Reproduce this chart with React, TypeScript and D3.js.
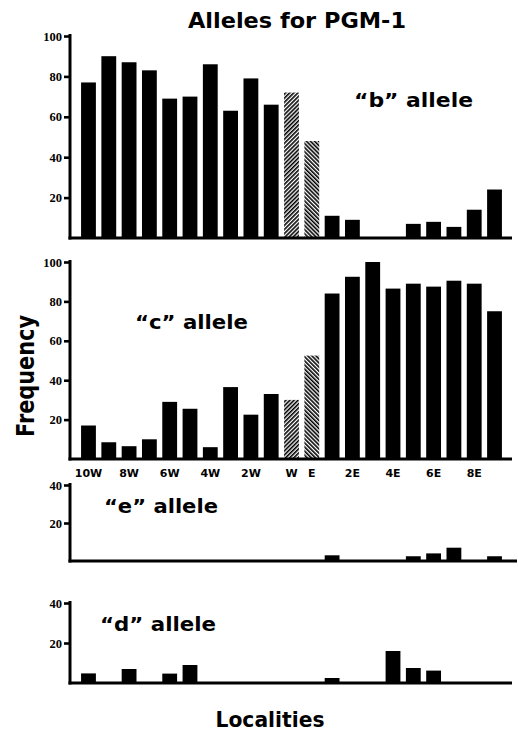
import React, { useRef, useEffect } from "react";
import * as d3 from "d3";

// localities from west to east, W and E are the two hatched centre samples
const localities = ["10W", "9W", "8W", "7W", "6W", "5W", "4W", "3W", "2W", "1W", "W", "E",
  "1E", "2E", "3E", "4E", "5E", "6E", "7E", "8E", "9E"];
const tickLocalities = ["10W", "8W", "6W", "4W", "2W", "W", "E", "2E", "4E", "6E", "8E"];
const hatchedWest = "W";
const hatchedEast = "E";

// frequencies (%)
const alleleB = [77, 90, 87, 83, 69, 70, 86, 63, 79, 66, 72, 48, 11, 9, 0, 0, 7, 8, 5.5, 14, 24];
const alleleC = [17, 8.5, 6.5, 10, 29, 25.5, 6, 36.5, 22.5, 33, 30, 52.5, 84, 92.5, 100, 86.5, 89, 87.5, 90.5, 89, 75];
const alleleE = [0, 0, 0, 0, 0, 0, 0, 0, 0, 0, 0, 0, 3, 0, 0, 0, 2.5, 4, 7, 0, 2.5];
const alleleD = [4.8, 0, 7, 0, 4.7, 9, 0, 0, 0, 0, 0, 0, 2.5, 0, 0, 16, 7.5, 6.2, 0, 0, 0];

const bigFont = "'DejaVu Sans', sans-serif";
const tickFont = "'Liberation Serif', serif";

const App = () => {
  const ref = useRef(null);

  useEffect(() => {
    const svg = d3.select(ref.current);
    svg.selectAll("*").remove();

    const defs = svg.append("defs");
    const hatch = (id, angle) => {
      const p = defs.append("pattern")
        .attr("id", id)
        .attr("patternUnits", "userSpaceOnUse")
        .attr("width", 2.9)
        .attr("height", 10)
        .attr("patternTransform", `rotate(${angle})`);
      p.append("rect").attr("width", 2.9).attr("height", 10).attr("fill", "#fff");
      p.append("rect").attr("width", 1.6).attr("height", 10).attr("fill", "#000");
    };
    hatch("hatchW", 45);
    hatch("hatchE", -45);

    const axisX = 70;
    const x = d3.scaleBand()
      .domain(localities)
      .range([76, 507])
      .paddingInner(0.27)
      .paddingOuter(0.25);

    const panels = [
      { values: alleleB, max: 100, ticks: [20, 40, 60, 80, 100], range: [238, 36], end: 512, label: "“b” allele", lx: 354, ly: 107, lw: 119 },
      { values: alleleC, max: 100, ticks: [20, 40, 60, 80, 100], range: [459, 262], end: 512, label: "“c” allele", lx: 135, ly: 329, lw: 113 },
      { values: alleleE, max: 40, ticks: [20, 40], range: [561, 485], end: 517, label: "“e” allele", lx: 104, ly: 513, lw: 114 },
      { values: alleleD, max: 40, ticks: [20, 40], range: [683, 603], end: 512, label: "“d” allele", lx: 100, ly: 631, lw: 116 },
    ];

    panels.forEach((pn, k) => {
      const y = d3.scaleLinear([0, pn.max], pn.range);
      const g = svg.append("g");

      g.selectAll("rect.bar")
        .data(pn.values)
        .enter()
        .append("rect")
        .attr("class", "bar")
        .attr("x", (d, i) => x(localities[i]))
        .attr("width", x.bandwidth())
        .attr("y", d => y(d))
        .attr("height", d => y(0) - y(d))
        .attr("fill", (d, i) => localities[i] === hatchedWest ? "url(#hatchW)"
          : localities[i] === hatchedEast ? "url(#hatchE)" : "#000");

      const yAxis = d3.axisLeft(y).tickValues(pn.ticks).tickSize(6).tickPadding(2);
      g.append("g")
        .attr("transform", `translate(${axisX},0)`)
        .call(yAxis)
        .call(a => a.select(".domain").remove())
        .call(a => a.selectAll(".tick line").attr("stroke-width", 2.6))
        .call(a => a.selectAll(".tick text")
          .attr("font-family", tickFont)
          .attr("font-weight", "bold")
          .attr("font-size", 12.5)
          .attr("fill", "#000"));

      g.append("line")
        .attr("x1", axisX).attr("x2", axisX)
        .attr("y1", y(pn.max) - 2).attr("y2", y(0) + 1.5)
        .attr("stroke", "#000").attr("stroke-width", 3);
      g.append("line")
        .attr("x1", axisX - 1.5).attr("x2", pn.end)
        .attr("y1", y(0)).attr("y2", y(0))
        .attr("stroke", "#000").attr("stroke-width", 3);

      g.append("text")
        .attr("x", pn.lx).attr("y", pn.ly)
        .attr("font-family", bigFont)
        .attr("font-weight", "bold")
        .attr("font-size", 20)
        .attr("textLength", pn.lw)
        .attr("lengthAdjust", "spacingAndGlyphs")
        .text(pn.label);

      if (k === 1) {
        const xAxis = d3.axisBottom(x).tickValues(tickLocalities).tickSize(0).tickPadding(10);
        g.append("g")
          .attr("transform", `translate(0,${y(0)})`)
          .call(xAxis)
          .call(a => a.select(".domain").remove())
          .call(a => a.selectAll(".tick text")
            .attr("font-family", bigFont)
            .attr("font-weight", "bold")
            .attr("font-size", 11)
            .attr("fill", "#000"));
      }
    });

    svg.append("text")
      .attr("x", 297).attr("y", 28)
      .attr("text-anchor", "middle")
      .attr("font-family", bigFont)
      .attr("font-weight", "bold")
      .attr("font-size", 20.5)
      .attr("textLength", 218)
      .attr("lengthAdjust", "spacingAndGlyphs")
      .text("Alleles for PGM-1");

    svg.append("text")
      .attr("transform", "translate(34,376) rotate(-90)")
      .attr("text-anchor", "middle")
      .attr("font-family", bigFont)
      .attr("font-weight", "bold")
      .attr("font-size", 25)
      .attr("textLength", 122)
      .attr("lengthAdjust", "spacingAndGlyphs")
      .text("Frequency");

    svg.append("text")
      .attr("x", 270).attr("y", 727)
      .attr("text-anchor", "middle")
      .attr("font-family", bigFont)
      .attr("font-weight", "bold")
      .attr("font-size", 22)
      .attr("textLength", 109)
      .attr("lengthAdjust", "spacingAndGlyphs")
      .text("Localities");
  }, []);

  return (
    <svg ref={ref} width={518} height={732}
      style={{ position: "absolute", left: 0, top: 0, background: "#fff" }}>
    </svg>
  );
};

export default App;
